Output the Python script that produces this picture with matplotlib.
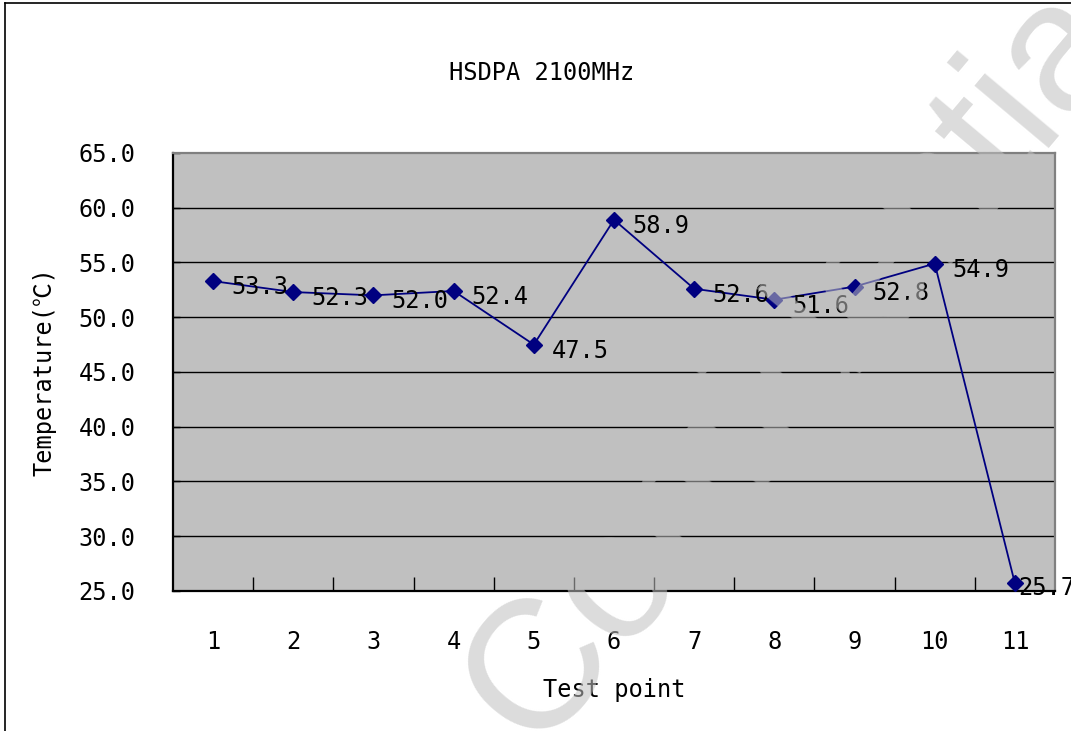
import matplotlib
matplotlib.use("Agg")
import matplotlib.pyplot as plt
from matplotlib.lines import Line2D
from matplotlib.ticker import FixedLocator, FormatStrFormatter

# ---- data ----
test_points = ["1", "2", "3", "4", "5", "6", "7", "8", "9", "10", "11"]
temperatures = [53.3, 52.3, 52.0, 52.4, 47.5, 58.9, 52.6, 51.6, 52.8, 54.9, 25.7]
y_ticks = [25, 30, 35, 40, 45, 50, 55, 60, 65]
title = "HSDPA 2100MHz"
x_label = "Test point"
y_label = "Temperature(℃)"
watermark = "Confidential"

FONT = ["DejaVu Sans Mono", "Noto Sans CJK JP", "DejaVu Sans"]
FS = 17
plt.rcParams["font.family"] = FONT

W, H = 1071, 731
fig = plt.figure(figsize=(W / 100, H / 100), dpi=100)
fig.patch.set_facecolor("white")

# outer chart-area border (left and top visible)
fig.add_artist(Line2D([5 / W, 5 / W], [0, 1 - 3 / H], color="black", lw=1.2))
fig.add_artist(Line2D([5 / W, 1.0], [1 - 3 / H, 1 - 3 / H], color="black", lw=1.2))

ax = fig.add_axes([173 / W, 1 - 591 / H, 882 / W, 438 / H])
ax.set_facecolor("#c0c0c0")

x = list(range(1, len(test_points) + 1))
ax.plot(x, temperatures, color="#000080", lw=1.3, marker="D", markersize=8,
        markerfacecolor="#000080", markeredgecolor="#000080", zorder=5)

for k, (xi, v) in enumerate(zip(x, temperatures)):
    # last label is squeezed against the right edge of the chart
    dx, dy = (18, -6) if k < len(x) - 1 else (3, -5)
    ax.annotate(f"{v:.1f}", (xi, v), xytext=(dx, dy), textcoords="offset pixels",
                ha="left", va="center", fontsize=FS, color="black",
                annotation_clip=False, zorder=6)

ax.set_xlim(0.5, len(test_points) + 0.5)
ax.set_ylim(min(y_ticks), max(y_ticks))
ax.set_yticks(y_ticks)
ax.yaxis.set_major_formatter(FormatStrFormatter("%.1f"))
for yt in y_ticks[1:-1]:
    ax.axhline(yt, color="black", lw=1.0, zorder=1)

ax.set_xticks(x)
ax.set_xticklabels(test_points)
ax.xaxis.set_minor_locator(FixedLocator([i + 0.5 for i in x[:-1]]))
ax.tick_params(axis="x", which="major", length=0, pad=28, labelsize=FS)
ax.tick_params(axis="x", which="minor", direction="in", length=10, width=1.0, color="black")
ax.tick_params(axis="y", which="major", direction="in", length=5, width=1.0, pad=27, labelsize=FS)

for s in ["left", "bottom"]:
    ax.spines[s].set_color("black")
    ax.spines[s].set_linewidth(1.6)
for s in ["top", "right"]:
    ax.spines[s].set_color("#808080")
    ax.spines[s].set_linewidth(1.6)

ax.set_xlabel(x_label, fontsize=FS, labelpad=17)
ax.set_ylabel(y_label, fontsize=FS, labelpad=16)

fig.text(542 / W, 1 - 73 / H, title, ha="center", va="center", fontsize=FS)

# watermark overlay (invisible over the grey plot area, light grey over white)
g = 192 / 255
fig.text(534 / W, 1 - 751 / H, watermark, rotation=50, rotation_mode="anchor",
         ha="left", va="baseline", fontsize=132, family="Liberation Sans",
         color=(g, g, g), alpha=0.556, zorder=100)

fig.savefig("out.png", dpi=100)
